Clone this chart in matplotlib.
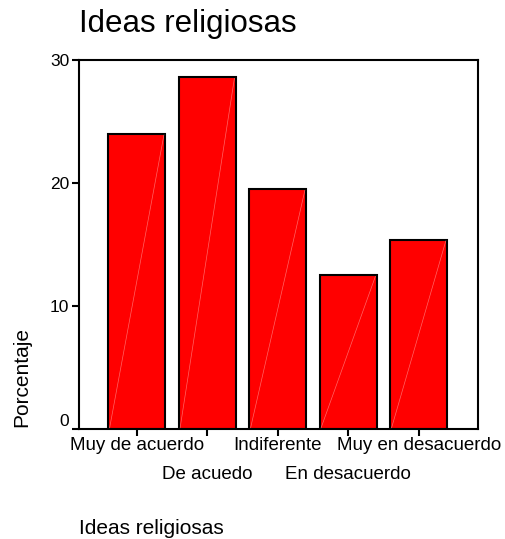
import matplotlib
matplotlib.use('Agg')
import matplotlib.pyplot as plt

categorias = ['Muy de acuerdo', 'De acuedo', 'Indiferente', 'En desacuerdo', 'Muy en desacuerdo']
porcentaje = [24.0, 28.6, 19.5, 12.5, 15.4]
yticks = [0, 10, 20, 30]

plt.rcParams['font.family'] = ['Liberation Sans', 'DejaVu Sans']

fig = plt.figure(figsize=(5.05, 5.39), dpi=100)
ax = fig.add_axes([0.1564, 0.2041, 0.790, 0.6846])

x = list(range(len(categorias)))
w = 0.81
ax.bar(x, porcentaje, width=w, color='#ff0000', edgecolor='black', linewidth=1.5, zorder=2)

# faint diagonal streak seen in each bar
for xi, v in zip(x, porcentaje):
    ax.plot([xi - w / 2 + 0.02, xi + w / 2 - 0.02], [0.1, v - 0.1], color='white',
            lw=0.5, alpha=0.4, zorder=3)

ax.set_xlim(-0.82, 4.84)
ax.set_ylim(0, 30)
ax.set_yticks(yticks)
ylabels = ax.set_yticklabels([str(t) for t in yticks], fontsize=12.5)
ylabels[0].set_va('bottom')  # the "0" sits raised above the axis line
ax.set_xticks(x)
ax.set_xticklabels(categorias, fontsize=13.5)
for i, tick in enumerate(ax.xaxis.get_major_ticks()):
    tick.set_pad(1 if i % 2 == 0 else 22)

ax.tick_params(axis='both', direction='out', length=5, width=1.5, color='black')
ax.tick_params(axis='y', pad=2)
for s in ax.spines.values():
    s.set_linewidth(1.5)

fig.text(79 / 505, 1 - 24 / 539, 'Ideas religiosas', fontsize=22.5, ha='left', va='center')
fig.text(22 / 505, 1 - 427 / 539, 'Porcentaje', fontsize=15, rotation=90,
         ha='center', va='bottom')
fig.text(79 / 505, 1 - 528 / 539, 'Ideas religiosas', fontsize=15, ha='left', va='center')

fig.savefig('out.png', dpi=100)
